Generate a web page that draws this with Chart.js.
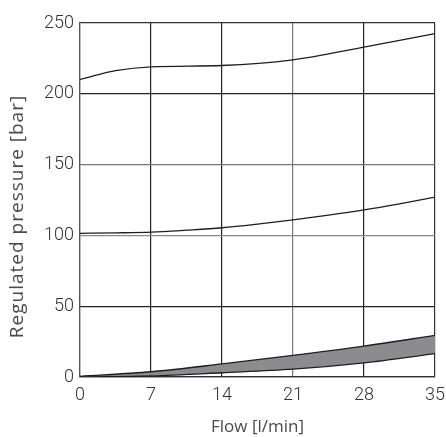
<!DOCTYPE html>
<html>
<head>
<meta charset="utf-8">
<script src="https://cdn.jsdelivr.net/npm/chart.js@4/dist/chart.umd.min.js"></script>
<style>
html,body{margin:0;padding:0;background:#fff;}
#wrap{width:446px;height:437px;}
</style>
</head>
<body>
<div id="wrap"><canvas id="c"></canvas></div>
<script>
const flowHigh = [0, 1.5, 3.5, 7, 14, 21, 28, 35];
const pressHigh = [210, 213, 216.3, 219, 220, 224, 233, 242.5];
const flowMid = [0, 3.5, 7, 10.5, 14, 17.5, 21, 24.5, 28, 31.5, 35];
const pressMid = [101.5, 101.8, 102.3, 103.7, 105.4, 108, 111, 114.3, 118, 122.3, 127];
const flowBand = [0, 7, 14, 21, 28, 35];
const bandUpper = [0.5, 3.7, 9.2, 15.3, 21.8, 29.4];
const bandLower = [0, 0.8, 3, 5.5, 10, 16.5];
const xTicks = [0, 7, 14, 21, 28, 35];
const yTicks = [0, 50, 100, 150, 200, 250];
const xTitle = 'Flow [l/min]';
const yTitle = 'Regulated pressure [bar]';

const pts = (xs, ys) => xs.map((x, i) => ({x, y: ys[i]}));
const lineStyle = {borderColor:'#1e1e1e', borderWidth:1.3, pointRadius:0, cubicInterpolationMode:'monotone', fill:false};

const darkX = {0:'#333', 7:'#222', 14:'#222', 21:'#777', 28:'#222', 35:'#333'};
const darkY = {0:'#333', 50:'#222', 100:'#888', 150:'#777', 200:'#222', 250:'#333'};

const tickFont = {family: 'Roboto', weight: '300', size: 18};

// y-axis title centred on the canvas height, as in the reference
const yTitlePlugin = {
  id: 'yTitle',
  afterDraw(chart) {
    const ctx = chart.ctx;
    ctx.save();
    ctx.translate(18, chart.height / 2 - 2);
    ctx.rotate(-Math.PI / 2);
    ctx.font = '19px "Open Sans"';
    if ('letterSpacing' in ctx) ctx.letterSpacing = '1px';
    ctx.fillStyle = '#4a4a4a';
    ctx.textAlign = 'center';
    ctx.textBaseline = 'middle';
    ctx.fillText(yTitle, 0, 0);
    ctx.restore();
  }
};

new Chart(document.getElementById('c'), {
  type: 'line',
  data: {
    datasets: [
      Object.assign({data: pts(flowBand, bandLower)}, lineStyle),
      Object.assign({data: pts(flowBand, bandUpper)}, lineStyle, {fill: '-1', backgroundColor:'#8c8c8e'}),
      Object.assign({data: pts(flowMid, pressMid)}, lineStyle),
      Object.assign({data: pts(flowHigh, pressHigh)}, lineStyle)
    ]
  },
  plugins: [yTitlePlugin],
  options: {
    responsive: true,
    maintainAspectRatio: false,
    animation: false,
    layout: {padding: {left: 0, top: 23, right: 0, bottom: 0}},
    plugins: {legend: {display: false}, tooltip: {enabled: false}},
    scales: {
      x: {
        type: 'linear', min: 0, max: 35,
        afterBuildTicks: s => { s.ticks = xTicks.map(v => ({value: v})); },
        afterFit: s => { s.height = 60; s.paddingRight = 11; s.paddingLeft = 0; },
        grid: {color: c => darkX[c.tick.value] || '#333', lineWidth: 1.2, drawTicks: false},
        border: {display: true, color: '#333', width: 1.2},
        ticks: {padding: 8, color: '#333', font: tickFont},
        title: {display: true, text: xTitle, color: '#4a4a4a', padding: {top: 0, bottom: 0}, font: {family: 'Open Sans', size: 17}}
      },
      y: {
        type: 'linear', min: 0, max: 250,
        afterBuildTicks: s => { s.ticks = yTicks.map(v => ({value: v})); },
        afterFit: s => { s.width = 80; },
        grid: {color: c => darkY[c.tick.value] || '#333', lineWidth: 1.2, drawTicks: false},
        border: {display: true, color: '#555', width: 1.2},
        ticks: {padding: 6, color: '#333', font: tickFont},
        title: {display: false}
      }
    }
  }
});
</script>
</body>
</html>
